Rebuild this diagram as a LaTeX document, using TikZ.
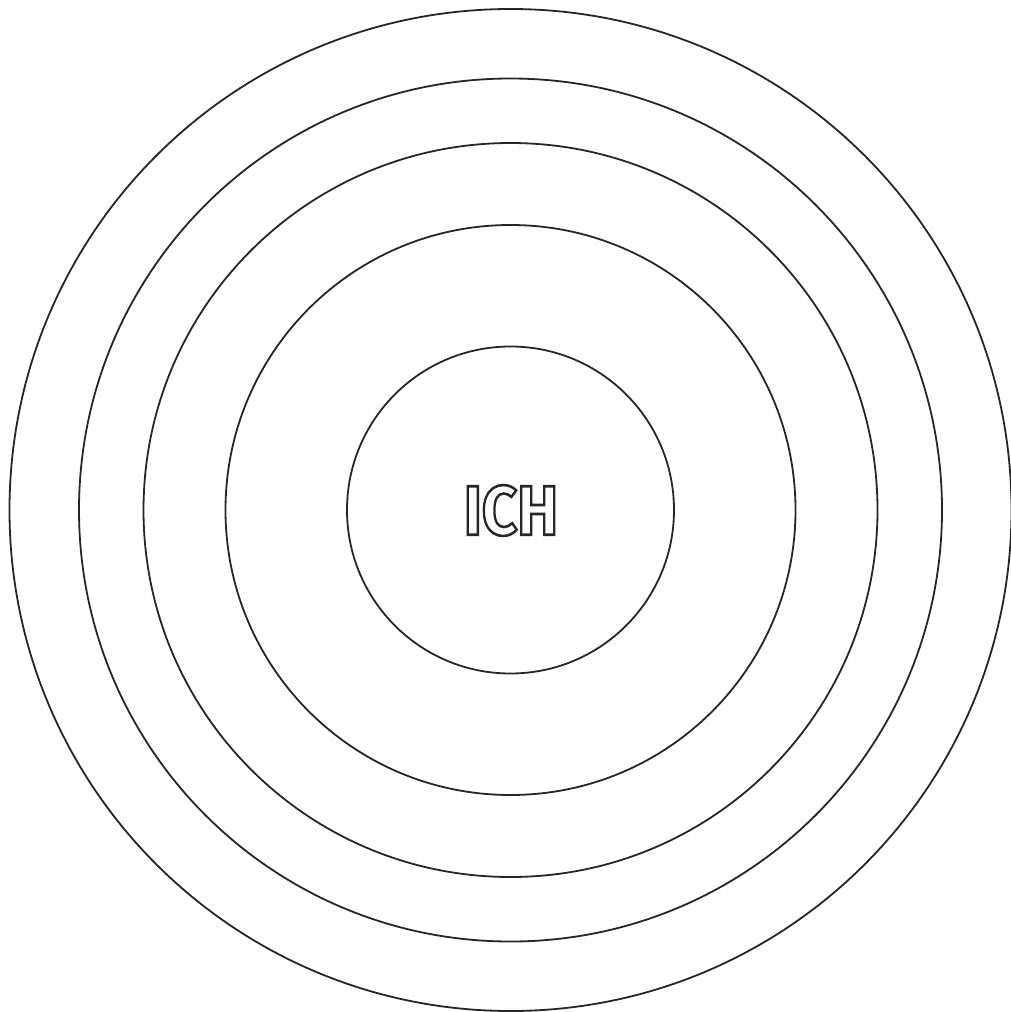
\documentclass[tikz,border=0pt]{standalone}
\usepackage{fontspec}
\setmainfont{Fira Sans}
\newfontfamily\labelfont{Fira Sans}[UprightFont=* Bold]
\begin{document}
\begin{tikzpicture}[x=1pt,y=-1pt,
  ring/.style={draw=black!85,line width=1.8pt}]
\useasboundingbox (0,0) rectangle (1011,1012);
\node[ring,circle,minimum size=1002pt,inner sep=0pt] (r5) at (510.5,510) {};
\node[ring,circle,minimum size=863pt,inner sep=0pt] (r4) at (510.5,510) {};
\node[ring,circle,minimum size=734pt,inner sep=0pt] (r3) at (510.5,510) {};
\node[ring,circle,minimum size=570pt,inner sep=0pt] (r2) at (510.5,510) {};
\node[ring,circle,minimum size=327pt,inner sep=0pt] (r1) at (510.5,510) {};
\node[inner sep=0pt,xscale=0.88] (t) at (511,510.5) {\special{pdf:literal 1 Tr 2.6 w 0.15 0.15 0.15 RG}\labelfont\fontsize{70}{70}\selectfont ICH\special{pdf:literal 0 Tr}};
\end{tikzpicture}
\end{document}
